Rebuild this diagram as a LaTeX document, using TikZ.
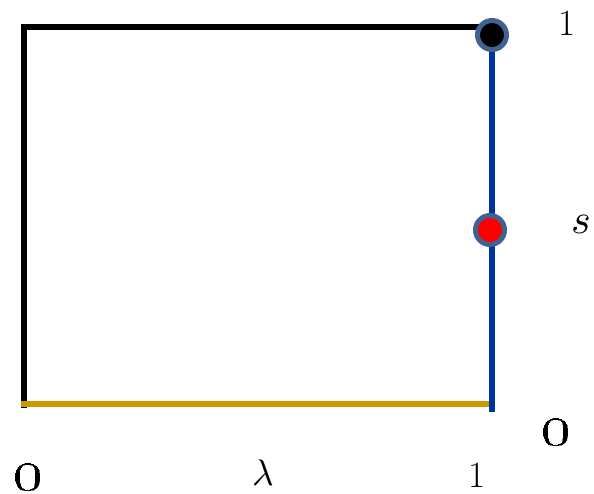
\documentclass[tikz,border=0pt]{standalone}
\usepackage{graphicx}
\definecolor{gold}{HTML}{CC9900}
\definecolor{dblue}{HTML}{0033A0}
\definecolor{ring}{HTML}{41628F}
\begin{document}
\begin{tikzpicture}[x=1pt,y=-1pt,
  lbl/.style={inner sep=0pt, font=\fontsize{37}{40}\selectfont},
  sml/.style={inner sep=0pt, font=\normalsize},
  dot/.style={circle, draw=ring, line width=5pt, minimum size=29pt, inner sep=0pt}]
\useasboundingbox (0,0) rectangle (594,493);
\coordinate (tl) at (24,26.5);
\coordinate (bl) at (24,405);
\coordinate (tr) at (492,26.5);
\coordinate (br) at (492,412);
\coordinate (bt) at (492,35);
\coordinate (gl) at (21,404);
\coordinate (gr) at (494,404);
\draw[line width=6pt, line cap=rect] (bl) -- (tl) -- (tr);
\draw[gold, line width=6pt] (gl) -- (gr);
\draw[dblue, line width=6pt] (bt) -- (br);
\node[dot, fill=black] (d1) at (492,35) {};
\node[dot, fill=red] (d2) at (490,230) {};
\node[lbl] (one1) at (567,23) {1};
\node[sml] (s) at (581,224) {\scalebox{4.2}{$s$}};
\node[sml] (zr) at (556,432) {\scalebox{5.8}{\oldstylenums{0}}};
\node[sml] (zl) at (28,477) {\scalebox{5.8}{\oldstylenums{0}}};
\node[sml] (lam) at (263,473) {\scalebox{3.7}{$\lambda$}};
\node[lbl] (one2) at (477,475) {1};
\end{tikzpicture}
\end{document}
